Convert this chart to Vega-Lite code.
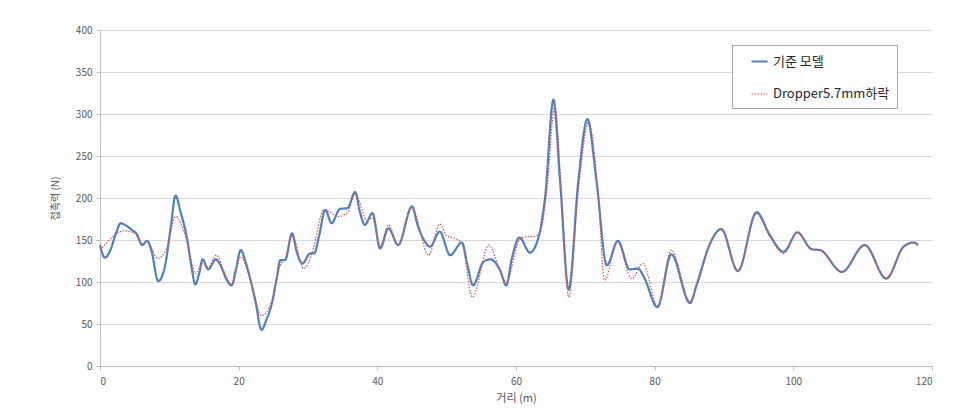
{
  "$schema": "https://vega.github.io/schema/vega-lite/v6.json",
  "width": 832,
  "height": 336,
  "autosize": {"type": "none"},
  "padding": {"left": 100, "top": 30, "right": 37, "bottom": 45},
  "background": "white",
  "config": {
    "view": {"stroke": null},
    "font": "Noto Sans CJK KR",
    "axis": {"labelFont": "Noto Sans CJK KR", "titleFont": "Noto Sans CJK KR", "labelColor": "#595959", "titleColor": "#595959", "titleFontWeight": "normal", "labelFontSize": 10, "domainColor": "#bfbfbf", "tickColor": "#bfbfbf", "gridColor": "#d9d9d9"}
  },
  "datasets": {
    "base": [
      {"x":0,"y":144},{"x":0.7,"y":129},{"x":1.5,"y":138},{"x":2.3,"y":158},{"x":3.0,"y":170},{"x":3.8,"y":167},{"x":4.6,"y":162},{"x":5.3,"y":157},{"x":6.1,"y":144},{"x":6.8,"y":149},{"x":7.4,"y":138},{"x":8.4,"y":101},{"x":9.4,"y":120},{"x":10.2,"y":165},{"x":10.9,"y":203},{"x":11.6,"y":184},{"x":12.5,"y":154},{"x":13.2,"y":118},{"x":13.75,"y":97},{"x":14.3,"y":110},{"x":14.8,"y":127},{"x":15.6,"y":115},{"x":16.7,"y":127},{"x":17.5,"y":118},{"x":18.3,"y":102},{"x":19.0,"y":96},{"x":19.6,"y":115},{"x":20.3,"y":138},{"x":21.0,"y":124},{"x":21.6,"y":106},{"x":22.4,"y":78},{"x":23.3,"y":43},{"x":24.0,"y":55},{"x":24.8,"y":75},{"x":25.5,"y":105},{"x":26.0,"y":126},{"x":26.7,"y":126},{"x":27.7,"y":158},{"x":28.4,"y":135},{"x":29.2,"y":122},{"x":30.3,"y":134},{"x":30.9,"y":134},{"x":31.6,"y":155},{"x":32.5,"y":186},{"x":33.4,"y":170},{"x":34.6,"y":187},{"x":35.7,"y":188},{"x":36.8,"y":207},{"x":37.5,"y":183},{"x":38.2,"y":168},{"x":39.3,"y":182},{"x":40.4,"y":140},{"x":41.6,"y":164},{"x":43.0,"y":144},{"x":45.0,"y":190},{"x":45.8,"y":168},{"x":46.6,"y":152},{"x":47.6,"y":142},{"x":49.0,"y":160},{"x":50.5,"y":132},{"x":52.2,"y":147},{"x":53.0,"y":120},{"x":53.8,"y":96},{"x":55.3,"y":124},{"x":56.3,"y":127},{"x":57.7,"y":114},{"x":58.6,"y":96},{"x":59.4,"y":128},{"x":60.5,"y":153},{"x":62.0,"y":135},{"x":63.2,"y":152},{"x":64.2,"y":201},{"x":65.4,"y":317},{"x":66.35,"y":221},{"x":67.6,"y":91},{"x":69.0,"y":221},{"x":70.3,"y":294},{"x":71.6,"y":221},{"x":73.1,"y":120},{"x":74.7,"y":149},{"x":76.4,"y":115},{"x":77.6,"y":116},{"x":78.5,"y":105},{"x":80.4,"y":70},{"x":82.4,"y":133},{"x":85.1,"y":75},{"x":86.1,"y":98},{"x":88.0,"y":146},{"x":89.6,"y":163},{"x":92.0,"y":113},{"x":94.7,"y":183},{"x":96.6,"y":156},{"x":98.6,"y":136},{"x":100.6,"y":159},{"x":102.65,"y":139},{"x":103.85,"y":138},{"x":107.0,"y":112},{"x":110.3,"y":144},{"x":113.4,"y":104},{"x":115.9,"y":142},{"x":117.3,"y":147},{"x":118.0,"y":144}
    ],
    "drop": [
      {"x":0,"y":138},{"x":1.0,"y":147},{"x":2.0,"y":155},{"x":3.5,"y":161},{"x":5.0,"y":158},{"x":6.1,"y":146},{"x":6.8,"y":148},{"x":8.3,"y":128},{"x":9.6,"y":140},{"x":10.9,"y":178},{"x":12.5,"y":150},{"x":13.8,"y":110},{"x":14.8,"y":122},{"x":15.6,"y":118},{"x":16.8,"y":132},{"x":18.0,"y":110},{"x":19.0,"y":97},{"x":20.3,"y":130},{"x":21.6,"y":105},{"x":23.3,"y":60},{"x":24.8,"y":78},{"x":26.0,"y":120},{"x":26.7,"y":128},{"x":27.7,"y":155},{"x":29.4,"y":116},{"x":30.6,"y":135},{"x":32.3,"y":186},{"x":34.4,"y":178},{"x":35.8,"y":184},{"x":36.8,"y":205},{"x":38.5,"y":174},{"x":39.3,"y":176},{"x":40.4,"y":142},{"x":41.6,"y":168},{"x":43.0,"y":144},{"x":45.0,"y":188},{"x":47.4,"y":132},{"x":49.0,"y":169},{"x":50.0,"y":155},{"x":51.2,"y":152},{"x":52.2,"y":146},{"x":53.7,"y":82},{"x":56.1,"y":144},{"x":57.5,"y":118},{"x":58.6,"y":100},{"x":60.5,"y":150},{"x":61.5,"y":154},{"x":62.5,"y":154},{"x":63.4,"y":157},{"x":64.4,"y":205},{"x":65.6,"y":309},{"x":66.6,"y":200},{"x":67.6,"y":82},{"x":69.0,"y":210},{"x":70.5,"y":290},{"x":71.8,"y":210},{"x":72.8,"y":102},{"x":74.6,"y":147},{"x":76.7,"y":104},{"x":78.3,"y":122},{"x":80.4,"y":72},{"x":82.4,"y":138},{"x":85.1,"y":77},{"x":86.2,"y":98},{"x":88.0,"y":146},{"x":89.6,"y":163},{"x":92.0,"y":114},{"x":94.7,"y":181},{"x":96.6,"y":154},{"x":98.6,"y":134},{"x":100.6,"y":159},{"x":102.65,"y":139},{"x":103.85,"y":138},{"x":107.0,"y":112},{"x":110.3,"y":144},{"x":113.4,"y":105},{"x":115.9,"y":142},{"x":117.3,"y":147},{"x":118.0,"y":144}
    ]
  },
  "layer": [
    {
      "data": {"name": "base"},
      "transform": [{"calculate": "'기준 모델'", "as": "series"}],
      "mark": {"type": "line", "interpolate": "monotone"},
      "encoding": {
        "x": {"field": "x", "type": "quantitative", "scale": {"domain": [0, 120], "nice": false}, "axis": {"values": [0, 20, 40, 60, 80, 100, 120], "grid": false, "tickSize": 4, "labelPadding": 6, "title": "거리 (m)", "titleFontSize": 11, "titlePadding": 6}},
        "y": {"field": "y", "type": "quantitative", "scale": {"domain": [0, 400], "nice": false}, "axis": {"values": [0, 50, 100, 150, 200, 250, 300, 350, 400], "tickSize": 4, "labelPadding": 4, "title": "접촉력 (N)", "titleFontSize": 10, "titlePadding": 15}},
        "color": {"field": "series", "type": "nominal", "scale": {"domain": ["기준 모델", "Dropper5.7mm하락"], "range": ["#4f81bd", "#e0504d"]}, "legend": {"title": null, "orient": "none", "legendX": 632, "legendY": 15, "strokeColor": "#a6a6a6", "fillColor": "white", "padding": 7, "rowPadding": 16, "symbolType": "stroke", "symbolSize": 256, "symbolOffset": 11, "labelFontSize": 13, "labelColor": "#262626", "labelFont": "Noto Sans CJK KR", "labelOffset": 4}},
        "strokeDash": {"field": "series", "type": "nominal", "scale": {"domain": ["기준 모델", "Dropper5.7mm하락"], "range": [[1, 0], [1.5, 1.5]]}, "legend": null},
        "strokeWidth": {"field": "series", "type": "nominal", "scale": {"domain": ["기준 모델", "Dropper5.7mm하락"], "range": [2.2, 1.2]}, "legend": null}
      }
    },
    {
      "data": {"name": "drop"},
      "transform": [{"calculate": "'Dropper5.7mm하락'", "as": "series"}],
      "mark": {"type": "line", "interpolate": "monotone"},
      "encoding": {
        "x": {"field": "x", "type": "quantitative"},
        "y": {"field": "y", "type": "quantitative"},
        "color": {"field": "series", "type": "nominal"},
        "strokeDash": {"field": "series", "type": "nominal"},
        "strokeWidth": {"field": "series", "type": "nominal"}
      }
    }
  ]
}
